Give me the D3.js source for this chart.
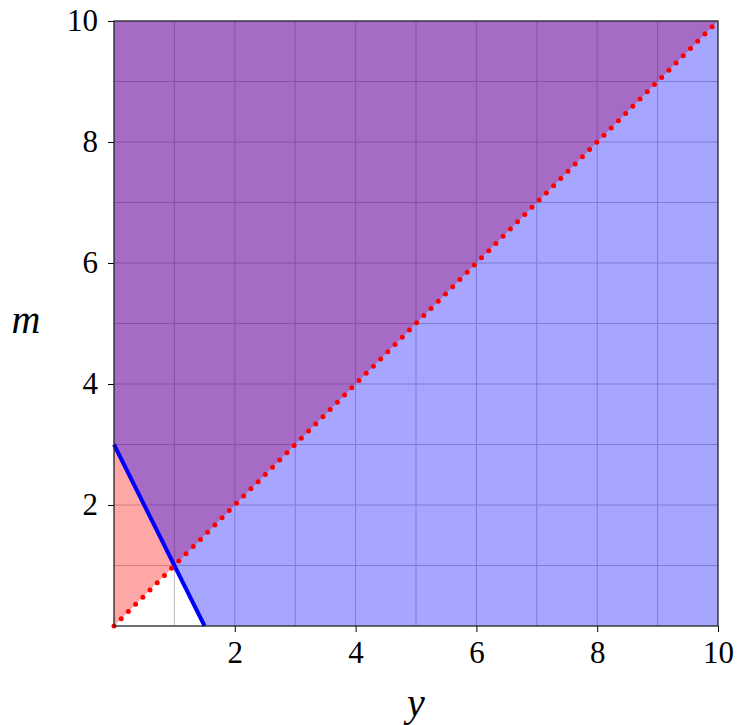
<!DOCTYPE html>
<html>
<head>
<meta charset="utf-8">
<script src="https://cdn.jsdelivr.net/npm/d3@7"></script>
<style>
  body { margin: 0; background: #fff; }
</style>
</head>
<body>
<div id="chart"></div>
<script>
// data, in axis units
const xTicks = [2, 4, 6, 8, 10]
const yTicks = [2, 4, 6, 8, 10]
const gridValues = [1, 2, 3, 4, 5, 6, 7, 8, 9]
const domainX = [0, 10]
const domainY = [0, 10]
// m >= y
const redRegion = [[0, 0], [10, 10], [0, 10]]
// m >= 3 - 2y
const blueRegion = [[0, 3], [0, 10], [10, 10], [10, 0], [1.5, 0]]
const redLine = [[0, 0], [10, 10]]
const blueLine = [[0, 3], [1.5, 0]]

const gc = {
    width: 737,
    height: 725,
    margin: { top: 21, right: 19, bottom: 99, left: 114 },
    grid: { color: '#bfbfbf', width: 1 },
    frame: { color: '#222', width: 1.3 },
    tick: { size: 6, font: 31 },
    label: { font: 40 },
    fontFamily: 'Liberation Serif',
    fillOpacity: 0.35
}

const w = gc.width - gc.margin.left - gc.margin.right
const h = gc.height - gc.margin.top - gc.margin.bottom

const svg = d3.select('#chart').append('svg')
    .attr('width', gc.width)
    .attr('height', gc.height)

const g = svg.append('g')
    .attr('transform', 'translate(' + gc.margin.left + ',' + gc.margin.top + ')')

const x = d3.scaleLinear().domain(domainX).range([0, w])
const y = d3.scaleLinear().domain(domainY).range([h, 0])

// grid
g.append('g').selectAll('line')
    .data(gridValues).join('line')
    .attr('x1', d => x(d)).attr('x2', d => x(d))
    .attr('y1', 0).attr('y2', h)
    .style('stroke', gc.grid.color)
    .style('stroke-width', gc.grid.width)
g.append('g').selectAll('line')
    .data(gridValues).join('line')
    .attr('y1', d => y(d)).attr('y2', d => y(d))
    .attr('x1', 0).attr('x2', w)
    .style('stroke', gc.grid.color)
    .style('stroke-width', gc.grid.width)

// filled regions, red first then blue so the overlap reads purple
const path = d3.line().x(d => x(d[0])).y(d => y(d[1]))
g.append('path')
    .attr('d', path(redRegion) + 'Z')
    .style('fill', 'rgb(255,0,0)')
    .style('fill-opacity', gc.fillOpacity)
g.append('path')
    .attr('d', path(blueRegion) + 'Z')
    .style('fill', 'rgb(0,0,255)')
    .style('fill-opacity', gc.fillOpacity)

// boundary lines
g.append('path')
    .attr('d', path(blueLine))
    .style('fill', 'none')
    .style('stroke', '#0000ff')
    .style('stroke-width', 4)
g.append('path')
    .attr('d', path(redLine))
    .style('fill', 'none')
    .style('stroke', '#ff0000')
    .style('stroke-width', 5)
    .style('stroke-linecap', 'round')
    .style('stroke-dasharray', '0,10.2')

// axes
const xAxis = d3.axisBottom(x).tickValues(xTicks).tickSizeInner(gc.tick.size).tickSizeOuter(0).tickPadding(9)
const yAxis = d3.axisLeft(y).tickValues(yTicks).tickSizeInner(gc.tick.size).tickSizeOuter(0).tickPadding(10)

const gx = g.append('g').attr('transform', 'translate(0,' + h + ')').call(xAxis)
const gy = g.append('g').call(yAxis)
for (const a of [gx, gy]) {
    a.attr('font-family', gc.fontFamily).attr('font-size', gc.tick.font)
    a.select('.domain').remove()
    a.selectAll('line').style('stroke', '#000').style('stroke-width', 1)
    a.selectAll('text').attr('fill', '#000')
}

// frame
g.append('rect')
    .attr('x', 0).attr('y', 0)
    .attr('width', w).attr('height', h)
    .style('fill', 'none')
    .style('stroke', gc.frame.color)
    .style('stroke-width', gc.frame.width)

// axis titles
g.append('text')
    .attr('x', w / 2)
    .attr('y', h + 90)
    .attr('text-anchor', 'middle')
    .attr('font-family', gc.fontFamily)
    .attr('font-size', gc.label.font)
    .attr('font-style', 'italic')
    .text('y')
g.append('text')
    .attr('x', 26 - gc.margin.left)
    .attr('y', 333 - gc.margin.top)
    .attr('text-anchor', 'middle')
    .attr('font-family', gc.fontFamily)
    .attr('font-size', gc.label.font)
    .attr('font-style', 'italic')
    .text('m')
</script>
</body>
</html>
